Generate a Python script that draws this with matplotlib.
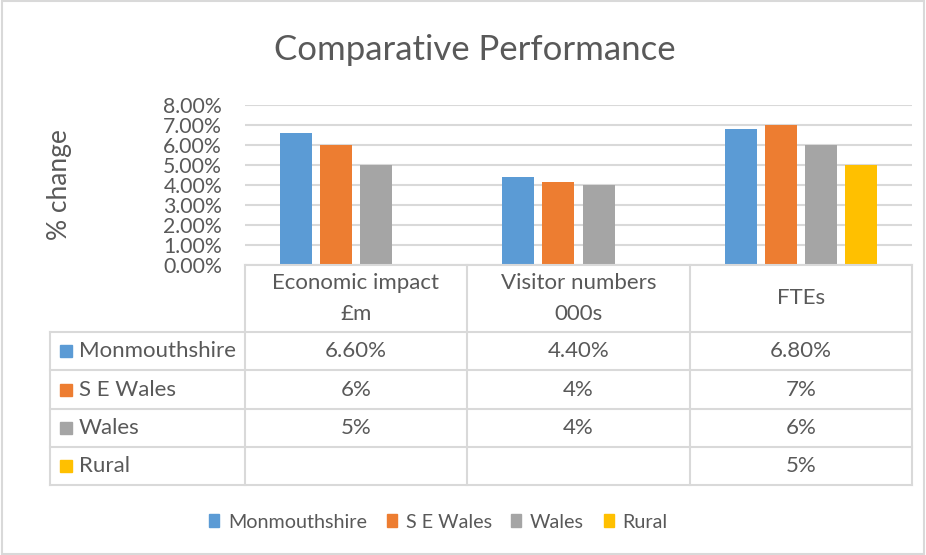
import numpy as np
import matplotlib
matplotlib.use("Agg")
import matplotlib.pyplot as plt
from matplotlib.patches import Patch, Rectangle

plt.rcParams['font.family'] = ['Lato', 'DejaVu Sans']

# data
categories = ["Economic impact\n£m", "Visitor numbers\n000s", "FTEs"]
series = ["Monmouthshire", "S E Wales", "Wales", "Rural"]
monmouthshire = [6.6, 4.4, 6.8]
se_wales = [6.0, 4.15, 7.0]
wales = [5.0, 4.0, 6.0]
rural = [np.nan, np.nan, 5.0]
values = [monmouthshire, se_wales, wales, rural]
decimals = [2, 0, 0, 0]   # how each row is shown in the data table
colors = ["#5B9BD5", "#ED7D31", "#A5A5A5", "#FFC000"]
yticks = [0, 1, 2, 3, 4, 5, 6, 7, 8]

txt = "#595959"
grid = "#D9D9D9"
W, H = 926, 555

fig = plt.figure(figsize=(W / 100, H / 100), dpi=100)

# plot area in pixels
px_l, px_r, px_t, px_b = 245, 912, 105, 265
ax = fig.add_axes([px_l / W, 1 - px_b / H, (px_r - px_l) / W, (px_b - px_t) / H])

x = np.arange(len(categories))
width = 0.144
offsets = [-0.27, -0.09, 0.09, 0.27]
for i, name in enumerate(series):
    ax.bar(x + offsets[i], values[i], width, color=colors[i], label=name, zorder=3)

ax.set_xlim(-0.5, len(categories) - 0.5)
ax.set_ylim(0, 8)
ax.set_yticks(yticks)
ax.set_yticklabels(["%.2f%%" % t for t in yticks], fontsize=15.3, color=txt)
ax.yaxis.grid(True, color=grid, linewidth=1.5, zorder=0)
ax.set_xticks([])
ax.tick_params(axis='y', length=0, pad=16.5)
for s in ax.spines.values():
    s.set_visible(False)

fig.text(60 / W, 1 - 185 / H, "% change", fontsize=19, color=txt,
         rotation=90, ha='center', va='center')
fig.text(475 / W, 1 - 50 / H, "Comparative Performance", fontsize=25,
         color=txt, ha='center', va='center')

# data table drawn in a pixel overlay
ov = fig.add_axes([0, 0, 1, 1])
ov.set_xlim(0, W)
ov.set_ylim(H, 0)
ov.axis('off')

col_edges = [245, 467, 690, 912]
row_edges = [265, 332, 370, 409, 447, 485]
left = 50
lw = 1.5

ov.plot([col_edges[0], col_edges[-1]], [row_edges[0]] * 2, color=grid, lw=lw)
for r in row_edges[1:]:
    ov.plot([left, col_edges[-1]], [r, r], color=grid, lw=lw)
for c in col_edges:
    ov.plot([c, c], [row_edges[0], row_edges[-1]], color=grid, lw=lw)
ov.plot([left, left], [row_edges[1], row_edges[-1]], color=grid, lw=lw)

for j, cat in enumerate(categories):
    cx = (col_edges[j] + col_edges[j + 1]) / 2
    cy = (row_edges[0] + row_edges[1]) / 2
    ov.text(cx, cy, cat, ha='center', va='center', fontsize=16, color=txt,
            linespacing=1.65)

for i, name in enumerate(series):
    cy = (row_edges[i + 1] + row_edges[i + 2]) / 2
    ov.add_patch(Rectangle((60, cy - 6), 12, 12, color=colors[i]))
    ov.text(79, cy, name, ha='left', va='center', fontsize=16, color=txt)
    for j in range(len(categories)):
        v = values[i][j]
        if np.isnan(v):
            continue
        cx = (col_edges[j] + col_edges[j + 1]) / 2
        ov.text(cx, cy, "%.*f%%" % (decimals[i], v), ha='center', va='center',
                fontsize=16, color=txt)

handles = [Patch(color=c, label=n) for c, n in zip(colors, series)]
leg = fig.legend(handles=handles, loc='center', bbox_to_anchor=(438.5 / W, 1 - 522 / H),
                 ncol=4, frameon=False, fontsize=14.2, handlelength=0.5,
                 handleheight=0.6, handletextpad=0.45, columnspacing=1.0)
for t in leg.get_texts():
    t.set_color(txt)

fig.patches.append(Rectangle((0.002, 0.002), 0.996, 0.996, transform=fig.transFigure,
                             fill=False, edgecolor=grid, lw=1.5))

fig.savefig("out.png", dpi=100)
